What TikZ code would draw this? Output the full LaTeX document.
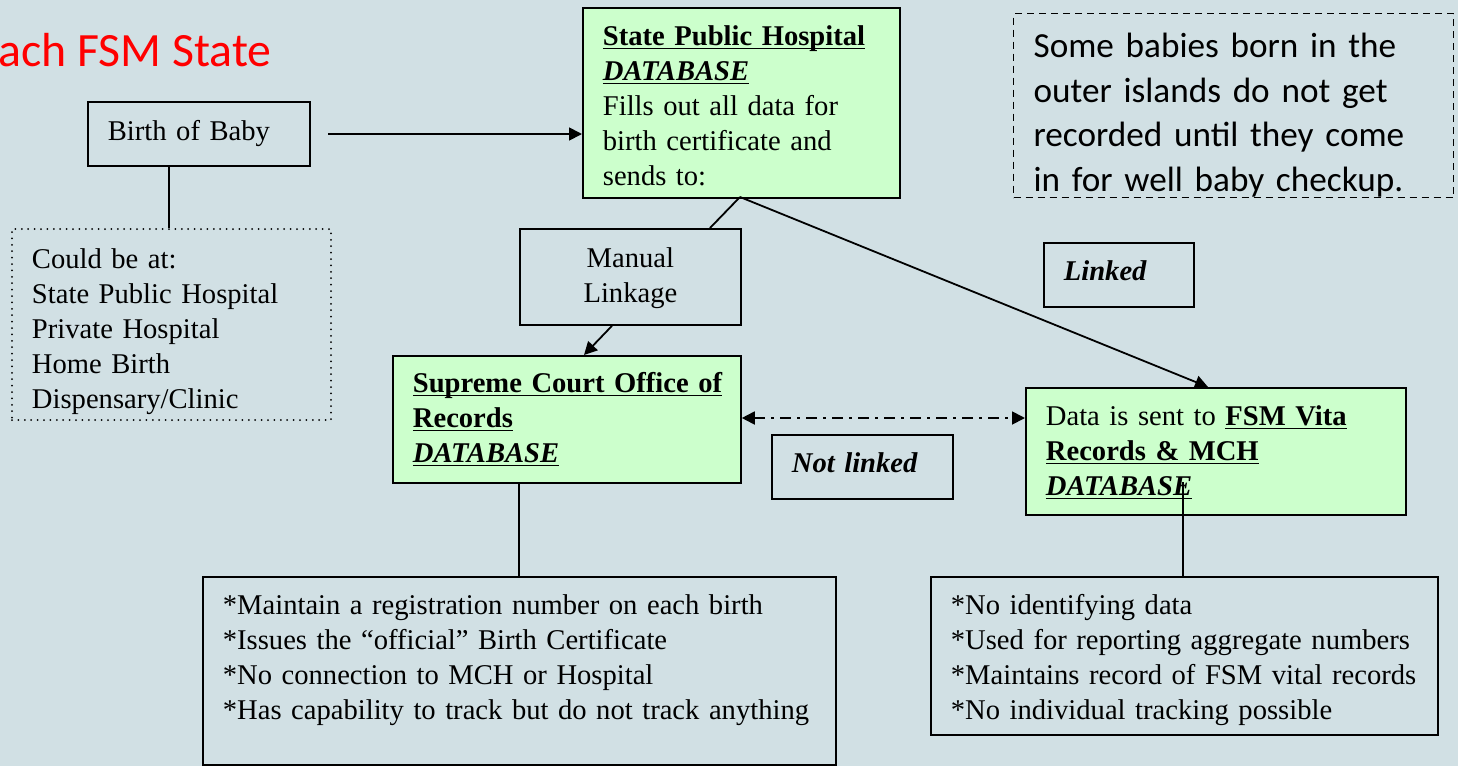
\documentclass[tikz,border=0pt]{standalone}
\usepackage{fontspec}
\setmainfont{Liberation Serif}
\newfontfamily\calibri{Carlito}
\usepackage{xcolor}
\usetikzlibrary{arrows.meta}

\definecolor{slidebg}{RGB}{209,224,228}
\definecolor{dbgreen}{RGB}{204,255,204}
\newcommand{\uln}[1]{\underline{\smash{#1}}}

\tikzset{
  box/.style={draw, line width=0.9pt, inner xsep=10pt, inner ysep=0pt, anchor=north west,
    align=left, font=\fontsize{14.3}{17.5}\selectfont},
  dbbox/.style={box, fill=dbgreen},
  conn/.style={line width=0.9pt},
}

\begin{document}
\begin{tikzpicture}[x=0.5pt, y=-0.5pt, >={Triangle[length=6.5pt,width=6.5pt]}]
  \fill[slidebg] (0,0) rectangle (1458,766);
  \useasboundingbox (0,0) rectangle (1458,766);

  \node[anchor=base west, inner sep=0pt, text=red, font=\calibri\fontsize{23.9}{28}\selectfont] (title) at (-2,66) {ach FSM State};

  \node[box, text width=91pt, text height=19.5pt, text depth=12.5pt] (birth) at (87,101) {Birth of Baby};
  \node[dbbox, text width=138.5pt, text height=19pt, text depth=76pt] (sph) at (582,7)
    {\uln{\textbf{State Public Hospital}}\\ \uln{\textbf{\textit{DATABASE}}}\\ Fills out all data for\\ birth certificate and\\ sends to:};
  \node[box, line width=0.6pt, dash pattern=on 3.5pt off 2.5pt, font=\calibri\fontsize{17.6}{22.3}\selectfont,
    text width=200pt, text height=22pt, text depth=70pt] (outer) at (1013,13)
    {Some babies born in the\\ outer islands do not get\\ recorded until they come\\ in for well baby checkup.};
  \node[box, line width=1pt, line cap=round, dash pattern=on 0pt off 3.2pt,
    text width=139.5pt, text height=19.5pt, text depth=76pt] (places) at (11,228)
    {Could be at:\\ State Public Hospital\\ Private Hospital\\ Home Birth\\ Dispensary/Clinic};
  \node[box, align=center, text width=90.5pt, text height=19.5pt, text depth=28.5pt] (manual) at (519,228) {Manual\\ Linkage};
  \node[box, text width=55pt, text height=19pt, text depth=13pt] (linked) at (1043,242) {\textbf{\textit{Linked}}};
  \node[dbbox, text width=154pt, text height=18.5pt, text depth=45pt] (sc) at (392,355)
    {\uln{\textbf{Supreme Court Office of}}\\ \uln{\textbf{Records}}\\ \uln{\textbf{\textit{DATABASE}}}};
  \node[dbbox, text width=170pt, text height=19pt, text depth=44.5pt] (fsm) at (1025,387)
    {Data is sent to \uln{\textbf{FSM Vita}}\\ \uln{\textbf{Records \& MCH}}\\ \uln{\textbf{\textit{DATABASE}}}};
  \node[box, text width=70.5pt, text height=19pt, text depth=13pt] (notlinked) at (771,434) {\textbf{\textit{Not linked}}};
  \node[box, text width=296.5pt, text height=19pt, text depth=75pt] (scnotes) at (202,576)
    {*Maintain a registration number on each birth\\{}*Issues the ``official'' Birth Certificate\\{}*No connection to MCH or Hospital\\{}*Has capability to track but do not track anything};
  \node[box, text width=233.5pt, text height=19pt, text depth=60pt] (fsmnotes) at (930,576)
    {*No identifying data\\{}*Used for reporting aggregate numbers\\{}*Maintains record of FSM vital records\\{}*No individual tracking possible};

  \coordinate (bstart) at (328,134);
  \coordinate (sphout) at (740,197);
  \coordinate (fsmtail) at (1183,482);

  \draw[conn] (birth.south -| 169,0) -- (places.north -| 169,0);
  \draw[conn, ->] (bstart) -- (bstart -| sph.west);
  \draw[conn] (sphout) -- (manual.north -| 710,0);
  \draw[conn, ->] (manual.south -| 612,0) -- (sc.north -| 584,0);
  \draw[conn, ->] (sphout) -- (fsm.north -| 1208,0);
  \draw[conn, <->, dash pattern=on 5.5pt off 3pt on 1.5pt off 3pt] (sc.east |- 0,418) -- (fsm.west |- 0,418);
  \draw[conn] (sc.south -| 519,0) -- (scnotes.north -| 519,0);
  \draw[conn] (fsmtail) -- (fsmnotes.north -| fsmtail);
\end{tikzpicture}
\end{document}
